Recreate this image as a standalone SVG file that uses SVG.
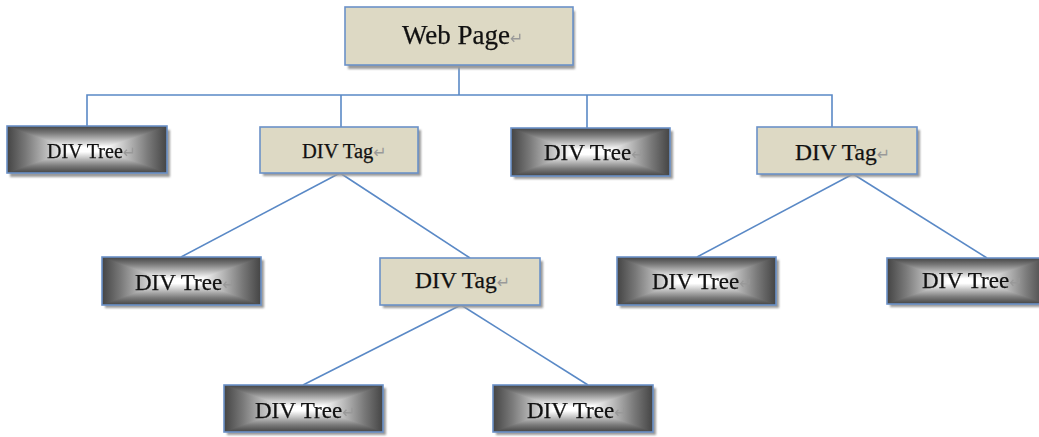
<svg xmlns="http://www.w3.org/2000/svg" width="1039" height="437" viewBox="0 0 1039 437">
  <style>
    .lnk { stroke: #5a89c6; stroke-width: 1.6; fill: none; }
    .edge { fill: none; stroke: #6b91c8; stroke-width: 1.6; }
    .shadow { fill: #9a9a9a; filter: url(#soft); }
    .tag { fill: #ddd9c4; }
    .gh { fill: url(#gh); }
    .gv { fill: url(#gv); mix-blend-mode: darken; }
    .lbl { font-family: "Liberation Serif", "Times New Roman", serif; fill: #111; stroke: #111; stroke-width: 0.25; }
    .pm { font-family: "DejaVu Sans", sans-serif; font-size: 16px; fill: #999; stroke: none; }
  </style>
  <defs>
    <filter id="soft" x="-5%" y="-20%" width="110%" height="140%">
      <feGaussianBlur stdDeviation="1"/>
    </filter>
    <!-- rectangular centre-out shading: horizontal and vertical ramps combined with darken -->
    <linearGradient id="gh" x1="0" y1="0" x2="1" y2="0">
      <stop offset="0" stop-color="#444"/>
      <stop offset="0.12" stop-color="#7a7a7a"/>
      <stop offset="0.38" stop-color="#fff"/>
      <stop offset="0.62" stop-color="#fff"/>
      <stop offset="0.88" stop-color="#7a7a7a"/>
      <stop offset="1" stop-color="#444"/>
    </linearGradient>
    <linearGradient id="gv" x1="0" y1="0" x2="0" y2="1">
      <stop offset="0" stop-color="#444"/>
      <stop offset="0.15" stop-color="#7a7a7a"/>
      <stop offset="0.45" stop-color="#fff"/>
      <stop offset="0.55" stop-color="#fff"/>
      <stop offset="0.85" stop-color="#7a7a7a"/>
      <stop offset="1" stop-color="#444"/>
    </linearGradient>
  </defs>

  <g id="connectors">
    <polyline class="lnk" points="459,66 459,95"/>
    <polyline class="lnk" points="87,126 87,95 832,95 832,127"/>
    <line class="lnk" x1="341" y1="95" x2="341" y2="127"/>
    <line class="lnk" x1="587" y1="95" x2="587" y2="128"/>
    <line class="lnk" x1="340" y1="173" x2="181" y2="257"/>
    <line class="lnk" x1="340" y1="173" x2="470" y2="258"/>
    <line class="lnk" x1="853" y1="174" x2="697" y2="257"/>
    <line class="lnk" x1="853" y1="174" x2="987" y2="258"/>
    <line class="lnk" x1="461" y1="305" x2="303" y2="385"/>
    <line class="lnk" x1="461" y1="305" x2="588" y2="385"/>
  </g>

  <g id="web-page">
    <rect class="shadow" x="348" y="11" width="227" height="58"/>
    <rect class="tag" x="345" y="7" width="228" height="58"/>
    <rect class="edge" x="345" y="7" width="228" height="58"/>
    <text class="lbl" x="402" y="44" font-size="27">Web Page<tspan class="pm" font-size="17">↵</tspan></text>
  </g>

  <g id="div-tree-1">
    <rect class="shadow" x="10" y="130" width="160" height="47"/>
    <rect class="gh" x="7" y="126" width="160" height="47"/>
    <rect class="gv" x="7" y="126" width="160" height="47"/>
    <rect class="edge" x="7" y="126" width="160" height="47"/>
    <text class="lbl" x="47" y="158" font-size="20">DIV Tree<tspan class="pm" font-size="14">↵</tspan></text>
  </g>

  <g id="div-tag-1">
    <rect class="shadow" x="263" y="130" width="158" height="46"/>
    <rect class="tag" x="260" y="127" width="158" height="46"/>
    <rect class="edge" x="260" y="127" width="158" height="46"/>
    <text class="lbl" x="302" y="158" font-size="20.5">DIV Tag<tspan class="pm" font-size="14">↵</tspan></text>
  </g>

  <g id="div-tree-2">
    <rect class="shadow" x="514" y="131" width="159" height="48"/>
    <rect class="gh" x="511" y="128" width="159" height="48"/>
    <rect class="gv" x="511" y="128" width="159" height="48"/>
    <rect class="edge" x="511" y="128" width="159" height="48"/>
    <text class="lbl" x="544" y="160" font-size="23">DIV Tree<tspan class="pm">↵</tspan></text>
  </g>

  <g id="div-tag-2">
    <rect class="shadow" x="760" y="130" width="160" height="47"/>
    <rect class="tag" x="757" y="127" width="160" height="47"/>
    <rect class="edge" x="757" y="127" width="160" height="47"/>
    <text class="lbl" x="795" y="160" font-size="23.5">DIV Tag<tspan class="pm">↵</tspan></text>
  </g>

  <g id="div-tree-3">
    <rect class="shadow" x="105" y="260" width="159" height="48"/>
    <rect class="gh" x="102" y="257" width="159" height="48"/>
    <rect class="gv" x="102" y="257" width="159" height="48"/>
    <rect class="edge" x="102" y="257" width="159" height="48"/>
    <text class="lbl" x="135" y="290" font-size="23">DIV Tree<tspan class="pm">↵</tspan></text>
  </g>

  <g id="div-tag-3">
    <rect class="shadow" x="383" y="261" width="160" height="47"/>
    <rect class="tag" x="380" y="258" width="160" height="47"/>
    <rect class="edge" x="380" y="258" width="160" height="47"/>
    <text class="lbl" x="415" y="288" font-size="23.5">DIV Tag<tspan class="pm">↵</tspan></text>
  </g>

  <g id="div-tree-4">
    <rect class="shadow" x="620" y="260" width="159" height="48"/>
    <rect class="gh" x="617" y="257" width="159" height="48"/>
    <rect class="gv" x="617" y="257" width="159" height="48"/>
    <rect class="edge" x="617" y="257" width="159" height="48"/>
    <text class="lbl" x="652" y="289" font-size="23">DIV Tree<tspan class="pm">↵</tspan></text>
  </g>

  <g id="div-tree-5">
    <rect class="shadow" x="890" y="261" width="159" height="46"/>
    <rect class="gh" x="887" y="258" width="159" height="46"/>
    <rect class="gv" x="887" y="258" width="159" height="46"/>
    <rect class="edge" x="887" y="258" width="159" height="46"/>
    <text class="lbl" x="922" y="288" font-size="23">DIV Tree<tspan class="pm">↵</tspan></text>
  </g>

  <g id="div-tree-6">
    <rect class="shadow" x="227" y="388" width="159" height="47"/>
    <rect class="gh" x="224" y="385" width="159" height="47"/>
    <rect class="gv" x="224" y="385" width="159" height="47"/>
    <rect class="edge" x="224" y="385" width="159" height="47"/>
    <text class="lbl" x="255" y="418" font-size="23">DIV Tree<tspan class="pm">↵</tspan></text>
  </g>

  <g id="div-tree-7">
    <rect class="shadow" x="496" y="388" width="160" height="47"/>
    <rect class="gh" x="493" y="385" width="160" height="47"/>
    <rect class="gv" x="493" y="385" width="160" height="47"/>
    <rect class="edge" x="493" y="385" width="160" height="47"/>
    <text class="lbl" x="527" y="418" font-size="23">DIV Tree<tspan class="pm">↵</tspan></text>
  </g>
</svg>
